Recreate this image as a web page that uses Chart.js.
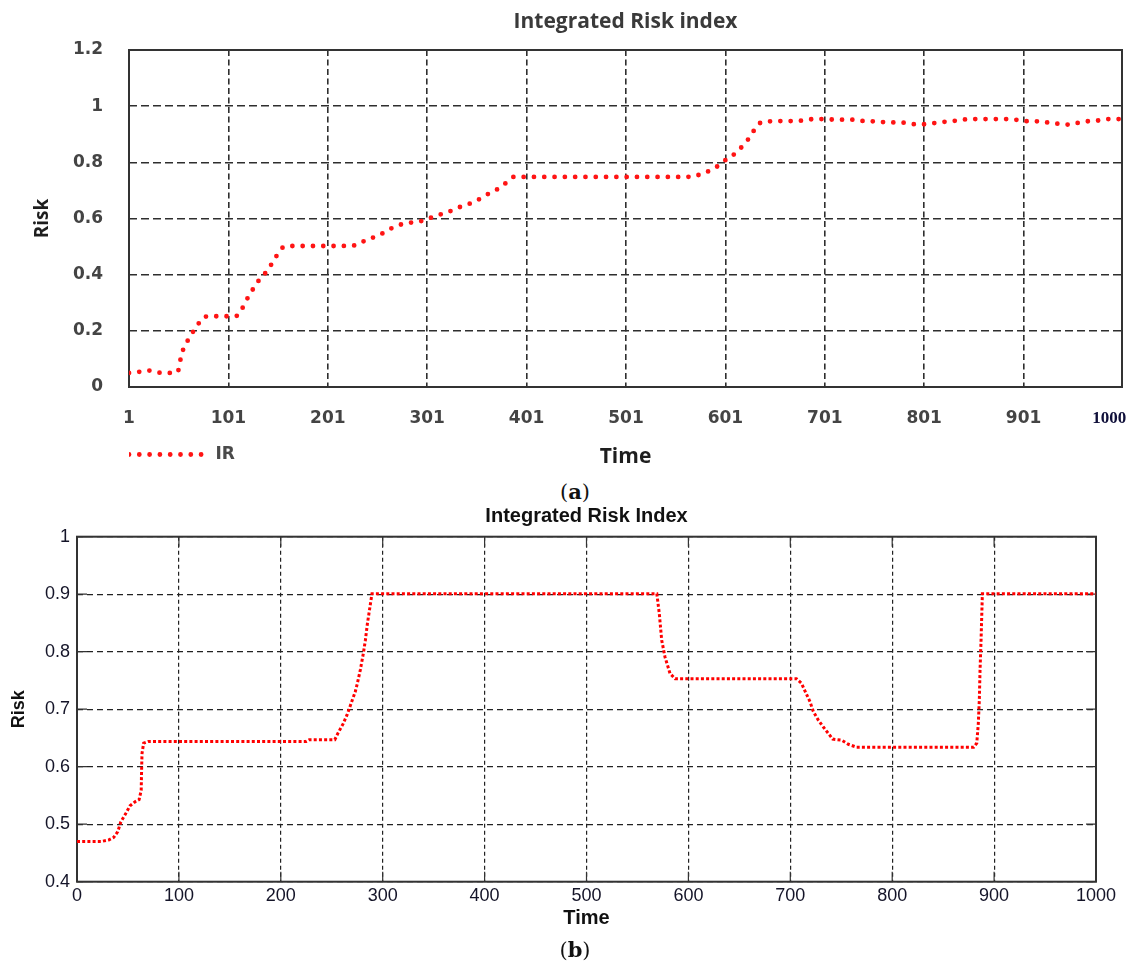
<!DOCTYPE html>
<html>
<head>
<meta charset="utf-8">
<title>Integrated Risk index</title>
<script src="https://cdn.jsdelivr.net/npm/chart.js@4.4.1/dist/chart.umd.min.js"></script>
<style>
  html, body { margin: 0; padding: 0; background: #fff; }
  #wrap { position: relative; width: 1136px; height: 967px; overflow: hidden; }
  .box { position: absolute; left: 0; }
  .cap { position: absolute; width: 40px; text-align: center; font-family: 'DejaVu Serif', 'Liberation Serif', serif; font-size: 21px; color: #111; line-height: 24px; }
</style>
</head>
<body>
<div id="wrap">
  <div class="box" style="top:0"><canvas id="chartA" width="1136" height="475"></canvas></div>
  <div class="cap" style="left:555px; top:480px">(<b>a</b>)</div>
  <div class="box" style="top:500px"><canvas id="chartB" width="1136" height="440"></canvas></div>
  <div class="cap" style="left:555px; top:938px">(<b>b</b>)</div>
</div>
<script>
// (a) Integrated Risk index
const timeA = [1, 11, 20, 29, 39, 50, 52, 54, 57, 62, 66, 71, 77, 87, 97, 108, 114, 118, 123, 127,
  132, 138, 143, 148, 152, 160, 170, 190, 210, 223, 232, 240, 249, 257, 265, 274, 284, 294, 304,
  314, 324, 334, 344, 354, 364, 374, 382, 388, 400, 450, 500, 550, 569, 577, 586, 593, 599, 607,
  615, 621, 627, 631, 637, 647, 658, 669, 679, 690, 700, 712, 723, 733, 742, 753, 764, 774, 784,
  795, 804, 816, 826, 836, 846, 870, 888, 898, 908, 918, 928, 938, 948, 955, 965, 976, 986, 1000];
const riskA = [0.05, 0.054, 0.059, 0.052, 0.05, 0.053, 0.085, 0.116, 0.147, 0.175, 0.2, 0.226, 0.25,
  0.252, 0.252, 0.252, 0.273, 0.304, 0.33, 0.357, 0.381, 0.405, 0.43, 0.457, 0.484, 0.502, 0.502,
  0.502, 0.502, 0.503, 0.508, 0.525, 0.535, 0.549, 0.565, 0.578, 0.585, 0.59, 0.602, 0.614, 0.626,
  0.641, 0.653, 0.67, 0.691, 0.709, 0.732, 0.748, 0.748, 0.748, 0.748, 0.748, 0.749, 0.76, 0.771,
  0.786, 0.803, 0.821, 0.845, 0.871, 0.895, 0.922, 0.942, 0.946, 0.947, 0.947, 0.949, 0.954, 0.954,
  0.952, 0.952, 0.952, 0.946, 0.946, 0.942, 0.942, 0.94, 0.934, 0.937, 0.942, 0.946, 0.949, 0.954,
  0.954, 0.954, 0.949, 0.946, 0.946, 0.94, 0.937, 0.934, 0.94, 0.946, 0.949, 0.954, 0.954];
const xTicksA = [1, 101, 201, 301, 401, 501, 601, 701, 801, 901, 1000];
const yTicksA = [0, 0.2, 0.4, 0.6, 0.8, 1, 1.2];

// (b) Integrated Risk Index
const timeB = [0, 24, 31, 36, 40, 43, 48, 52, 57, 61, 63, 63.4, 63.8, 65.4, 70, 225, 228, 253, 256,
  261, 265, 270, 273, 275, 278, 281, 283, 285, 287.5, 289.5, 569, 571.4, 573.8, 577, 582, 587, 706,
  711, 715.4, 719.3, 722.6, 727.5, 732.4, 737.3, 741.6, 750.4, 757, 765, 880, 883, 884.5, 885.5,
  886.2, 887.2, 888.5, 1000];
const riskB = [0.47, 0.47, 0.4725, 0.477, 0.487, 0.504, 0.519, 0.532, 0.539, 0.543, 0.559, 0.594,
  0.623, 0.641, 0.644, 0.644, 0.647, 0.647, 0.658, 0.674, 0.69, 0.715, 0.73, 0.744, 0.768, 0.797,
  0.82, 0.849, 0.878, 0.901, 0.901, 0.867, 0.82, 0.791, 0.762, 0.753, 0.753, 0.745, 0.728, 0.713,
  0.696, 0.681, 0.669, 0.658, 0.648, 0.646, 0.639, 0.634, 0.634, 0.641, 0.675, 0.716, 0.768, 0.82,
  0.901, 0.901];
const xTicksB = [0, 100, 200, 300, 400, 500, 600, 700, 800, 900, 1000];
const yTicksB = [0.4, 0.5, 0.6, 0.7, 0.8, 0.9, 1];

// Marco completo del área del gráfico (+ marcas interiores estilo MATLAB)
const framePlugin = {
  id: 'frame',
  beforeDatasetsDraw(chart, args, opts) {
    const { ctx, chartArea: a } = chart;
    ctx.save();
    ctx.strokeStyle = opts.color;
    ctx.lineWidth = opts.width;
    ctx.setLineDash([]);
    ctx.strokeRect(a.left, a.top, a.right - a.left, a.bottom - a.top);
    if (opts.ticks) {
      const L = opts.ticks;
      ctx.lineWidth = 1.2;
      ctx.beginPath();
      chart.scales.y.ticks.forEach(t => {
        const py = chart.scales.y.getPixelForValue(t.value);
        ctx.moveTo(a.left, py); ctx.lineTo(a.left + L, py);
        ctx.moveTo(a.right, py); ctx.lineTo(a.right - L, py);
      });
      chart.scales.x.ticks.forEach(t => {
        const px = chart.scales.x.getPixelForValue(t.value);
        ctx.moveTo(px, a.bottom); ctx.lineTo(px, a.bottom - L);
        ctx.moveTo(px, a.top); ctx.lineTo(px, a.top + L);
      });
      ctx.stroke();
    }
    ctx.restore();
  }
};

const tickFontA = { family: "'DejaVu Sans', Verdana, sans-serif", size: 17, weight: 'bold' };

new Chart(document.getElementById('chartA'), {
  type: 'line',
  data: {
    datasets: [{
      label: 'IR',
      data: timeA.map((t, i) => ({ x: t, y: riskA[i] })),
      borderColor: '#ff1414',
      backgroundColor: '#ff1414',
      borderWidth: 4.8,
      borderDash: [0, 10.3],
      borderCapStyle: 'round',
      cubicInterpolationMode: 'monotone',
      pointRadius: 0,
      fill: false
    }]
  },
  options: {
    responsive: false,
    animation: false,
    layout: { padding: { left: 0, right: 14, top: 0, bottom: 2 } },
    plugins: {
      title: {
        display: true,
        fullSize: false,
        text: 'Integrated Risk index',
        color: '#3a3a3a',
        font: { family: "'Open Sans', sans-serif", size: 21, weight: 'bold' },
        padding: { top: 9.4, bottom: 15.4 }
      },
      legend: {
        display: true,
        position: 'bottom',
        align: 'start',
        fullSize: false,
        labels: {
          usePointStyle: true,
          pointStyleWidth: 78,
          padding: 0,
          color: '#4a4a4a',
          font: { family: "'DejaVu Sans', sans-serif", size: 17, weight: 'bold' },
          // la línea punteada del legend se toma de la serie
          generateLabels: chart => chart.data.datasets.map((ds, i) => ({
            text: ds.label,
            datasetIndex: i,
            hidden: false,
            fillStyle: ds.borderColor,
            strokeStyle: ds.borderColor,
            fontColor: '#4a4a4a',
            lineWidth: ds.borderWidth,
            lineDash: ds.borderDash,
            lineCap: 'round',
            pointStyle: 'line'
          }))
        }
      },
      tooltip: { enabled: false },
      frame: { color: '#333', width: 2 }
    },
    scales: {
      x: {
        type: 'linear',
        min: 1,
        max: 1000,
        afterBuildTicks: s => { s.ticks = xTicksA.map(v => ({ value: v })); },
        afterFit: s => { s.height = 59; s.paddingRight = 0; },
        grid: { color: '#2e2e2e', lineWidth: 1.6, drawTicks: false },
        border: { display: false, dash: [6, 3.5] },
        ticks: {
          autoSkip: false,
          maxRotation: 0,
          padding: 21.8,
          color: c => (c.tick && c.tick.value === 1000) ? '#10103a' : '#444',
          font: c => (c.tick && c.tick.value === 1000)
            ? { family: "'Liberation Serif', 'DejaVu Serif', serif", size: 17, weight: 'bold' }
            : tickFontA,
          // el rótulo "1000" está desplazado a la izquierda en el original
          callback: v => v === 1000 ? '1000      ' : String(v)
        },
        title: {
          display: true,
          text: 'Time',
          color: '#1e1e1e',
          font: { family: "'Open Sans', sans-serif", size: 21, weight: 'bold' },
          padding: { top: 0, bottom: -23.6 }
        }
      },
      y: {
        min: 0,
        max: 1.2,
        afterBuildTicks: s => { s.ticks = yTicksA.map(v => ({ value: v })); },
        afterFit: s => { s.width = 129; },
        grid: { color: '#2e2e2e', lineWidth: 1.6, drawTicks: false },
        border: { display: false, dash: [8, 4] },
        ticks: {
          padding: 26,
          color: '#444',
          font: tickFontA,
          callback: v => String(v)
        },
        title: {
          display: true,
          text: 'Risk',
          color: '#1e1e1e',
          font: { family: "'Open Sans', sans-serif", size: 19, weight: 'bold' },
          padding: { top: 31.6, bottom: 0 }
        }
      }
    }
  },
  plugins: [framePlugin]
});

const fontB = "'Liberation Sans', Arial, sans-serif";

new Chart(document.getElementById('chartB'), {
  type: 'line',
  data: {
    datasets: [{
      label: 'IR',
      data: timeB.map((t, i) => ({ x: t, y: riskB[i] })),
      borderColor: '#ff0000',
      borderWidth: 3,
      borderDash: [3, 2.2],
      borderCapStyle: 'butt',
      tension: 0,
      pointRadius: 0,
      fill: false
    }]
  },
  options: {
    responsive: false,
    animation: false,
    layout: { padding: { left: 0, right: 40, top: 0, bottom: 10.8 } },
    plugins: {
      title: {
        display: true,
        fullSize: false,
        text: 'Integrated Risk Index',
        color: '#111',
        font: { family: fontB, size: 20, weight: 'bold' },
        padding: { top: 4.7, bottom: 8 }
      },
      legend: { display: false },
      tooltip: { enabled: false },
      frame: { color: '#333', width: 2, ticks: 10 }
    },
    scales: {
      x: {
        type: 'linear',
        min: 0,
        max: 1000,
        afterBuildTicks: s => { s.ticks = xTicksB.map(v => ({ value: v })); },
        afterFit: s => { s.height = 47.5; },
        grid: { color: '#222', lineWidth: 1.2, drawTicks: false },
        border: { display: false, dash: [4, 3] },
        ticks: {
          autoSkip: false,
          maxRotation: 0,
          padding: 4,
          color: '#141428',
          font: { family: fontB, size: 18 },
          callback: v => String(v)
        },
        title: {
          display: true,
          text: 'Time',
          color: '#111',
          font: { family: fontB, size: 20, weight: 'bold' },
          padding: { top: 0, bottom: -1.2 }
        }
      },
      y: {
        min: 0.4,
        max: 1,
        afterBuildTicks: s => { s.ticks = yTicksB.map(v => ({ value: v })); },
        afterFit: s => { s.width = 77; },
        grid: { color: '#222', lineWidth: 1.2, drawTicks: false },
        border: { display: false, dash: [6, 4] },
        ticks: {
          padding: 7,
          color: '#141428',
          font: { family: fontB, size: 18 },
          callback: v => String(v)
        },
        title: {
          display: true,
          text: 'Risk',
          color: '#111',
          font: { family: fontB, size: 18, weight: 'bold' },
          padding: { top: 8, bottom: 0 }
        }
      }
    }
  },
  plugins: [framePlugin]
});
</script>
</body>
</html>
